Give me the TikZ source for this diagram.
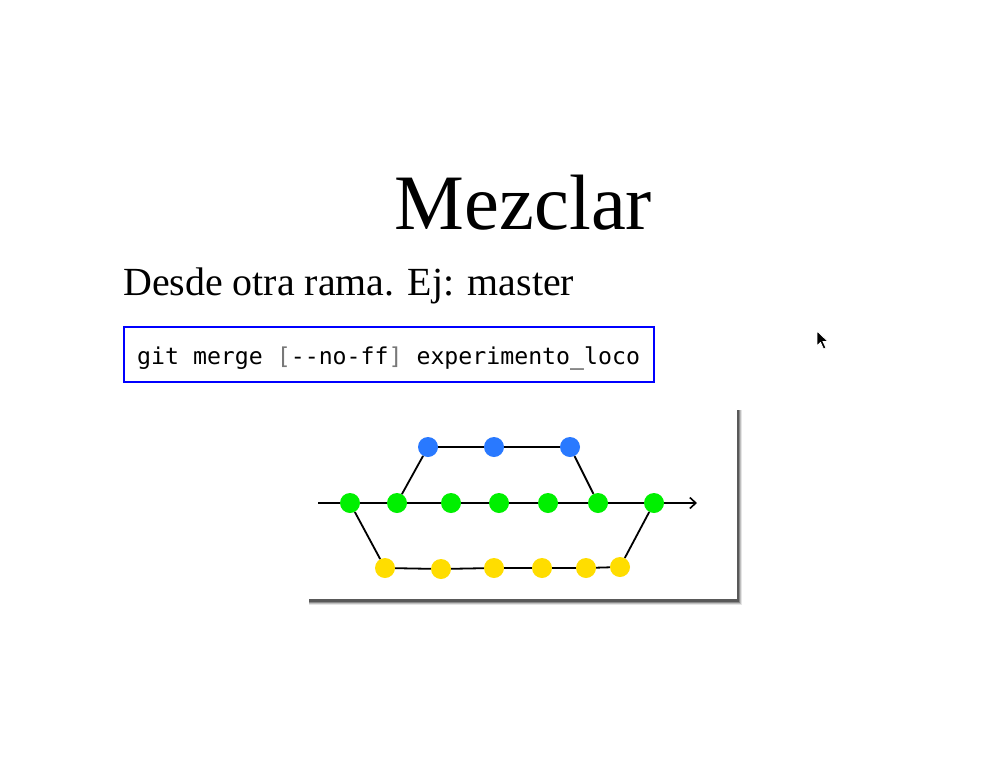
\documentclass[tikz,border=0pt]{standalone}
\usepackage{fontspec}
\setmainfont{Liberation Serif}
\newfontfamily\codefont{DejaVu Sans Mono}
\usetikzlibrary{arrows.meta}
\definecolor{cblue}{RGB}{41,121,255}
\definecolor{cgreen}{RGB}{0,240,0}
\definecolor{cyellow}{RGB}{255,221,0}
\definecolor{codegray}{RGB}{120,120,120}
\tikzset{
  commit/.style={circle,minimum size=20pt,inner sep=0pt},
  gc/.style={commit,fill=cgreen},
  bc/.style={commit,fill=cblue},
  yc/.style={commit,fill=cyellow},
  edge/.style={line width=1.8pt,black},
}
\begin{document}
\begin{tikzpicture}[x=1pt,y=-1pt]
\useasboundingbox (0,0) rectangle (986,766);
\fill[white] (0,0) rectangle (986,766);
% title
\node[anchor=base,inner sep=0pt,font=\fontsize{78.5pt}{80pt}\selectfont] (title) at (523.5,229) {Mezclar};
\node[anchor=base west,inner sep=0pt,font=\fontsize{39.9pt}{42pt}\selectfont] (sub) at (123,295) {Desde otra rama. Ej: master};
% code box
\draw[blue,line width=2pt] (124,327) rectangle (654,382);
\node[anchor=base west,inner sep=0pt,font=\codefont\fontsize{23.2pt}{25pt}\selectfont] (code) at (137,364) {git merge \textcolor{codegray}{[}--no-ff\textcolor{codegray}{]} experimento\_loco};
% diagram panel with soft shadow
\fill[black!10] (309,410) rectangle (742,605);
\fill[black!25] (309,410) rectangle (741,604);
\fill[black!45] (309,410) rectangle (740,603);
\fill[black!65] (309,410) rectangle (739,602);
\fill[white] (307,408) rectangle (737,599);
% commits
\node[gc] (g1) at (350,503) {};
\node[gc] (g2) at (397,503) {};
\node[gc] (g3) at (451,503) {};
\node[gc] (g4) at (499,503) {};
\node[gc] (g5) at (548,503) {};
\node[gc] (g6) at (598,503) {};
\node[gc] (g7) at (654,503) {};
\node[bc] (b1) at (428,447) {};
\node[bc] (b2) at (494,447) {};
\node[bc] (b3) at (570,447) {};
\node[yc] (y1) at (385,568) {};
\node[yc] (y2) at (441,569) {};
\node[yc] (y3) at (494,568) {};
\node[yc] (y4) at (542,568) {};
\node[yc] (y5) at (586,568) {};
\node[yc] (y6) at (620,567) {};
\coordinate (start) at (318,503);
\coordinate (end) at (697,503);
% edges
\draw[edge] (start) -- (g1) -- (g2) -- (g3) -- (g4) -- (g5) -- (g6) -- (g7);
\draw[edge,-{Straight Barb[length=6pt,width=11pt,line width=1.6pt]}] (g7) -- (end);
\draw[edge] (g2) -- (b1) -- (b2) -- (b3) -- (g6);
\draw[edge] (g1) -- (y1) -- (y2) -- (y3) -- (y4) -- (y5) -- (y6) -- (g7);
% mouse cursor
\filldraw[fill=black,draw=white,line width=0.8pt,line join=miter]
  (817,331) -- (817,346) -- (820.5,342.5) -- (823.5,349) -- (826,348) -- (823,341.5) -- (828,341.5) -- cycle;
\end{tikzpicture}
\end{document}
